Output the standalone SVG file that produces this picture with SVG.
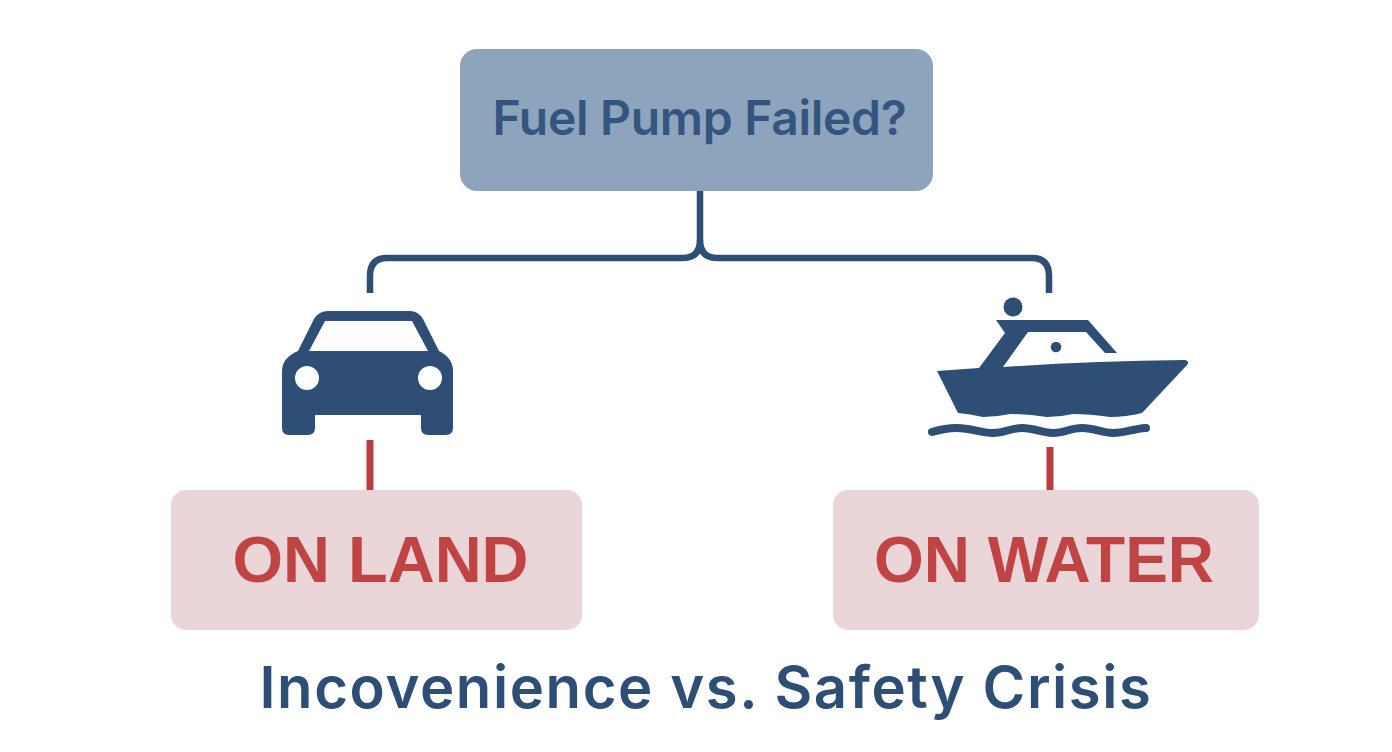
<svg xmlns="http://www.w3.org/2000/svg" width="1392" height="752" viewBox="0 0 1392 752">
<style>
text{font-family:"Inter","Liberation Sans",sans-serif;text-anchor:middle}
.ink{fill:#2e4e76}
.red{fill:#c04444;font-family:"Liberation Sans",Arial,sans-serif;font-weight:700;font-size:65px}
.box{fill:#ead6d9}
.conn{fill:none;stroke:#2e4e76;stroke-width:6.5}
.stem{fill:none;stroke:#b93c3e;stroke-width:7}
</style>
<rect width="1392" height="752" fill="#fff"/>
<g id="connectors">
<path class="conn" d="M700 191V240Q700 258 683 258H387Q370 258 370 276V293"/>
<path class="conn" d="M700 240Q700 258 717 258H1032Q1049 258 1049 276V293"/>
<path class="stem" d="M370 440V490"/>
<path class="stem" d="M1050 447V490"/>
</g>
<g id="node-question">
<rect x="460" y="49" width="473" height="142" rx="17" fill="#8ea3bc"/>
<text x="699.500" y="135" font-size="48" font-weight="600" letter-spacing="-0.3" fill="#34557f">Fuel Pump Failed?</text>
</g>
<g id="node-car">
<path class="ink" fill-rule="evenodd" d="M298 351L314 319Q319 311 328 311H410Q418 311 423 319L439 351Q453 358 453 371V428Q453 435 446 435H428Q421 435 421 428V415H315V428Q315 435 308 435H289Q282 435 282 428V371Q282 358 298 351ZM309 351H428L412 321H325Z"/>
<circle cx="307" cy="378" r="12" fill="#fff"/>
<circle cx="430" cy="378" r="12" fill="#fff"/>
</g>
<g id="node-boat">
<circle class="ink" cx="1013" cy="307" r="9.500"/>
<path class="ink" fill-rule="evenodd" d="M996 320H1088L1117 353H1105L1086 332H1028L1003 367Q1090 361 1185 360Q1190 361 1187 365L1142 413Q1126 417 1110 417Q1090 414 1073 414Q1060 417 1047 417Q1028 414 1010 414Q996 417 983 417Q970 414 958 413L937 371L979 368L1005 333Z"/>
<circle class="ink" cx="1056" cy="347" r="5.300"/>
<path fill="none" stroke="#2e4e76" stroke-width="8" stroke-linecap="round" d="M932 432C942 429 948 428 957 428C972 428 980 433 993 433C1005 433 1010 428 1022 428C1035 428 1042 433 1053 433C1065 433 1070 428 1082 428C1095 428 1102 433 1113 433C1125 433 1132 429 1146 428"/>
</g>
<g id="node-land">
<rect class="box" x="171" y="490" width="411" height="140" rx="15"/>
<text class="red" x="380.500" y="582">ON LAND</text>
</g>
<g id="node-water">
<rect class="box" x="833" y="490" width="426" height="140" rx="15"/>
<text class="red" x="1044" y="582" font-size="64" style="font-size:64px">ON WATER</text>
</g>
<g id="caption">
<text x="706" y="708" font-size="58" font-weight="600" letter-spacing="1.6" fill="#2e4e76">Incovenience vs. Safety Crisis</text>
</g>
</svg>
